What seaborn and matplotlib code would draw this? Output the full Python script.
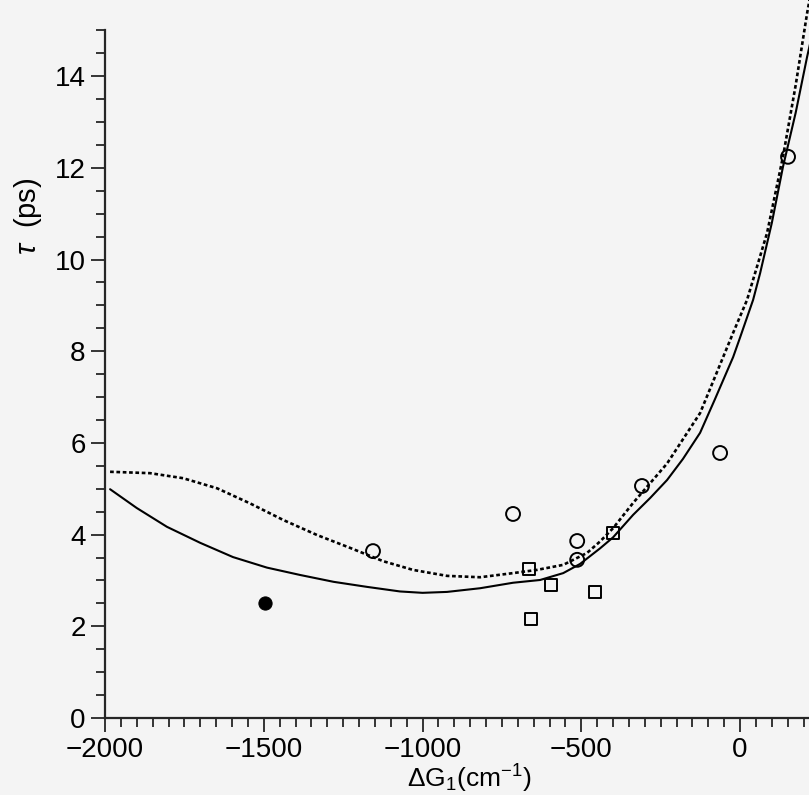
import matplotlib
matplotlib.use("Agg")
import matplotlib.pyplot as plt
from matplotlib.ticker import MultipleLocator, FixedLocator
import seaborn as sns

sns.set_style("white")
plt.rcParams['font.family'] = ['Liberation Sans', 'DejaVu Sans']
plt.rcParams['mathtext.fontset'] = 'custom'
plt.rcParams['mathtext.rm'] = 'Liberation Sans'
plt.rcParams['mathtext.it'] = 'Liberation Sans:italic'
plt.rcParams['text.color'] = 'black'
plt.rcParams['axes.labelcolor'] = 'black'
plt.rcParams['xtick.color'] = 'black'
plt.rcParams['ytick.color'] = 'black'

# measured lifetimes (open circles, open squares, filled circle)
circle_dg = [-1156, -715, -513, -513, -309, -63, 151]
circle_tau = [3.64, 4.45, 3.86, 3.45, 5.06, 5.78, 12.24]
square_dg = [-665, -658, -595, -457, -400]
square_tau = [3.25, 2.16, 2.90, 2.75, 4.03]
filled_dg = [-1496]
filled_tau = [2.51]

# calculated curves
solid_dg = [-1984, -1900, -1805, -1700, -1597, -1490, -1386, -1280, -1175, -1071,
            -1000, -923, -819, -715, -630, -557, -504, -441, -400, -337, -283,
            -230, -180, -126, -80, -22, 0, 41, 63, 100, 135, 175, 211, 225]
solid_tau = [4.99, 4.58, 4.17, 3.82, 3.51, 3.28, 3.12, 2.97, 2.86, 2.76,
             2.73, 2.75, 2.83, 2.95, 3.01, 3.16, 3.36, 3.70, 3.94, 4.43, 4.80,
             5.19, 5.65, 6.22, 6.94, 7.87, 8.30, 9.12, 9.70, 10.80, 12.02, 13.20, 14.42, 14.85]
dotted_dg = [-1984, -1858, -1754, -1647, -1543, -1439, -1332, -1228, -1124, -1030,
             -923, -819, -715, -640, -557, -482, -441, -400, -337, -230, -126,
             -22, 22, 85, 135, 175, 211, 225]
dotted_tau = [5.37, 5.34, 5.23, 5.01, 4.68, 4.32, 3.99, 3.71, 3.42, 3.23,
              3.10, 3.07, 3.16, 3.23, 3.34, 3.60, 3.85, 4.14, 4.69, 5.55, 6.65,
              8.40, 9.12, 10.58, 12.24, 13.80, 15.37, 15.90]

bg = '#f4f4f4'
fig = plt.figure(figsize=(8.09, 7.95), dpi=100, facecolor=bg)
ax = fig.add_axes([105 / 809, 77 / 795, 704 / 809, 718 / 795])
ax.set_facecolor(bg)

sns.lineplot(x=solid_dg, y=solid_tau, sort=False, estimator=None, color='black',
             linewidth=1.5, ax=ax)
sns.lineplot(x=dotted_dg, y=dotted_tau, sort=False, estimator=None, color='black',
             linewidth=1.9, linestyle=(0, (1.4, 1.0)), ax=ax)

sns.scatterplot(x=circle_dg, y=circle_tau, marker='o', s=100, fc='none',
                ec='black', linewidth=1.4, ax=ax, zorder=3)
sns.scatterplot(x=square_dg, y=square_tau, marker='s', s=80, fc='none',
                ec='black', linewidth=1.4, ax=ax, zorder=3)
sns.scatterplot(x=filled_dg, y=filled_tau, marker='o', s=90, color='black',
                ec='black', ax=ax, zorder=3)

ax.set_xlim(-2000, 217)
ax.set_ylim(0, 15.66)
for side in ['top', 'right']:
    ax.spines[side].set_visible(False)
ax.spines['left'].set_bounds(0, 15)
ax.spines['left'].set_linewidth(1.6)
ax.spines['bottom'].set_linewidth(1.6)

ax.set_xticks([-2000, -1500, -1000, -500, 0])
ax.set_xticklabels(['\u22122000', '\u22121500', '\u22121000', '\u2212500', '0'])
ax.xaxis.set_minor_locator(MultipleLocator(50))
ax.set_yticks([0, 2, 4, 6, 8, 10, 12, 14])
ax.yaxis.set_minor_locator(FixedLocator([i * 0.5 for i in range(31)]))
ax.tick_params(which='major', direction='out', length=10, width=1.1,
               labelsize=20, pad=4, left=True, bottom=True)
ax.tick_params(which='minor', direction='out', length=6.5, width=1.1,
               left=True, bottom=True)

ax.set_xlabel(r'$\Delta$G$_1$(cm$^{-1}$)', fontsize=19)
ax.set_ylabel(r'$\it{\tau}$  (ps)', fontsize=21)
ax.xaxis.set_label_coords(0.518, -0.062)
ax.yaxis.set_label_coords(-0.086, 0.699)

fig.savefig('out.png', dpi=100, facecolor=bg)
